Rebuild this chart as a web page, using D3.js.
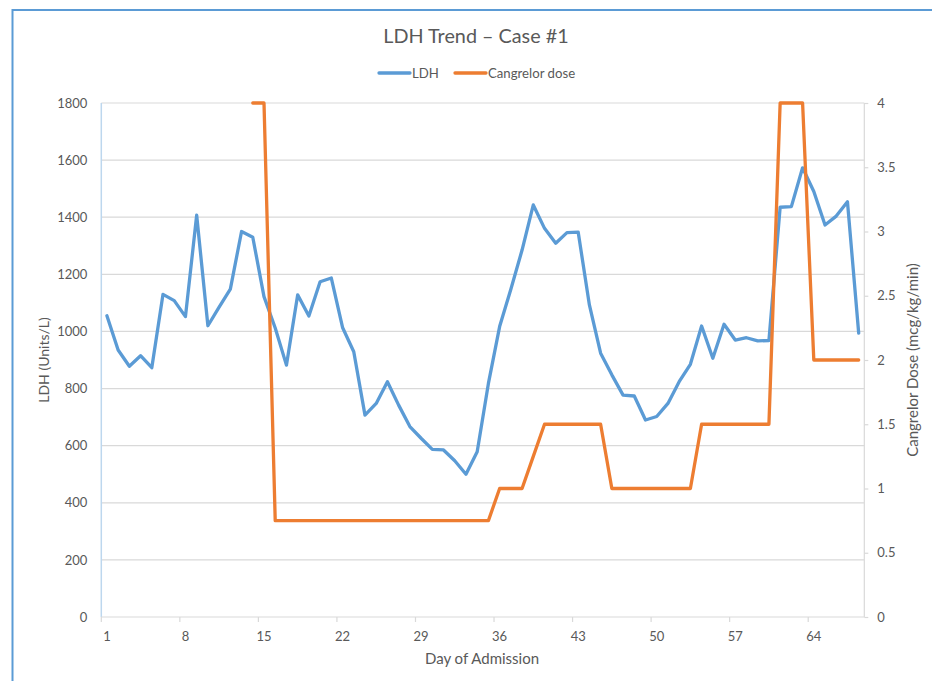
<!DOCTYPE html>
<html>
<head>
<meta charset="utf-8">
<script src="https://cdn.jsdelivr.net/npm/d3@7"></script>
<style>
  html, body { margin: 0; padding: 0; background: #fff; }
  svg { display: block; font-family: Lato, "Open Sans", sans-serif; }
</style>
</head>
<body>
<svg id="chart" width="932" height="681"></svg>
<script>
// Day of admission (category axis)
const days = [
  1, 2, 3, 4, 5, 6, 7, 8, 9, 10, 11, 12, 13, 14, 15, 16, 17,
  18, 19, 20, 21, 22, 23, 24, 25, 26, 27, 28, 29, 30, 31, 32, 33, 34,
  35, 36, 37, 38, 39, 40, 41, 42, 43, 44, 45, 46, 47, 48, 49, 50, 51,
  52, 53, 54, 55, 56, 57, 58, 59, 60, 61, 62, 63, 64, 65, 66, 67, 68
];

// LDH (Units/L), one reading per day
const ldh = [
  1055, 935, 878, 915, 873, 1130, 1108, 1052, 1407, 1020, 1085, 1148, 1350, 1330, 1122, 1012, 882,
  1128, 1054, 1174, 1187, 1014, 929, 707, 748, 824, 742, 667, 626, 587, 585, 547, 500, 579,
  818, 1017, 1148, 1285, 1443, 1361, 1309, 1346, 1348, 1093, 924, 848, 777, 774, 690, 702, 748,
  824, 885, 1019, 906, 1025, 970, 978, 967, 968, 1435, 1437, 1573, 1490, 1373, 1404, 1454, 994
];

// Cangrelor dose (mcg/kg/min); null before the infusion started
const dose = [
  null, null, null, null, null, null, null, null, null, null, null, null, null, 4, 4, 0.75, 0.75,
  0.75, 0.75, 0.75, 0.75, 0.75, 0.75, 0.75, 0.75, 0.75, 0.75, 0.75, 0.75, 0.75, 0.75, 0.75, 0.75, 0.75,
  0.75, 1, 1, 1, 1.25, 1.5, 1.5, 1.5, 1.5, 1.5, 1.5, 1, 1, 1, 1, 1, 1,
  1, 1, 1.5, 1.5, 1.5, 1.5, 1.5, 1.5, 1.5, 4, 4, 4, 2, 2, 2, 2, 2
];

const xTickDays = [1, 8, 15, 22, 29, 36, 43, 50, 57, 64];
const ldhTicks = [0, 200, 400, 600, 800, 1000, 1200, 1400, 1600, 1800];
const doseTicks = [0, 0.5, 1, 1.5, 2, 2.5, 3, 3.5, 4];

const seriesNames = ["LDH", "Cangrelor dose"];
const colors = { ldh: "#5b9bd5", dose: "#ed7d31" };
const textColor = "#595959";
const gridColor = "#d9d9d9";

const svg = d3.select("#chart");
const plot = { left: 101.3, right: 864.3, top: 103, bottom: 617 };

// Outer chart frame
svg.append("rect")
  .attr("x", 12.5).attr("y", 10)
  .attr("width", 940).attr("height", 700)
  .attr("fill", "#fff")
  .attr("stroke", "#5b9bd5").attr("stroke-width", 2);

const x = d3.scaleBand().domain(days).range([plot.left, plot.right]).padding(0);
const cx = d => x(d) + x.bandwidth() / 2;
const yL = d3.scaleLinear().domain([0, 1800]).range([plot.bottom, plot.top]);
const yR = d3.scaleLinear().domain([0, 4]).range([plot.bottom, plot.top]);

// Horizontal gridlines
svg.append("g")
  .selectAll("line")
  .data(ldhTicks.filter(v => v > 0))
  .join("line")
  .attr("x1", plot.left).attr("x2", plot.right)
  .attr("y1", d => yL(d)).attr("y2", d => yL(d))
  .attr("stroke", gridColor).attr("stroke-width", 1.2);

// Left axis: labels only, with a pale blue axis line
const leftAxis = svg.append("g")
  .attr("transform", `translate(${plot.left},0)`)
  .call(d3.axisLeft(yL).tickValues(ldhTicks).tickSize(0).tickPadding(14).tickFormat(d3.format("d")));
leftAxis.select(".domain").remove();
leftAxis.selectAll("text").attr("fill", textColor).attr("font-size", 13).attr("font-family", "Lato, sans-serif");
svg.append("line")
  .attr("x1", plot.left).attr("x2", plot.left)
  .attr("y1", plot.top).attr("y2", plot.bottom)
  .attr("stroke", "#bdd7ee").attr("stroke-width", 1.5);

// Right axis
const rightAxis = svg.append("g")
  .attr("transform", `translate(${plot.right},0)`)
  .call(d3.axisRight(yR).tickValues(doseTicks).tickSize(4).tickPadding(9).tickFormat(d => String(d)));
rightAxis.select(".domain")
  .attr("d", `M0,${plot.top}V${plot.bottom}`)
  .attr("stroke", gridColor).attr("stroke-width", 1.2);
rightAxis.selectAll(".tick line").attr("stroke", gridColor).attr("stroke-width", 1.2);
rightAxis.selectAll("text").attr("fill", textColor).attr("font-size", 13).attr("font-family", "Lato, sans-serif");

// Bottom category axis: tick marks sit on category boundaries, labels on centres
const bottomAxis = svg.append("g")
  .attr("transform", `translate(0,${plot.bottom})`)
  .call(d3.axisBottom(x).tickValues(xTickDays).tickSize(5).tickPadding(10));
bottomAxis.select(".domain")
  .attr("d", `M${plot.left},0H${plot.right}`)
  .attr("stroke", gridColor).attr("stroke-width", 1.2);
bottomAxis.selectAll(".tick line")
  .attr("x1", -x.bandwidth() / 2).attr("x2", -x.bandwidth() / 2)
  .attr("stroke", gridColor).attr("stroke-width", 1.2);
bottomAxis.selectAll("text").attr("fill", textColor).attr("font-size", 13).attr("font-family", "Lato, sans-serif");

// Series lines
const ldhLine = d3.line()
  .x((d, i) => cx(days[i]))
  .y(d => yL(d));
const doseLine = d3.line()
  .defined(d => d !== null)
  .x((d, i) => cx(days[i]))
  .y(d => yR(d));

svg.append("path")
  .datum(ldh)
  .attr("d", ldhLine)
  .attr("fill", "none")
  .attr("stroke", colors.ldh).attr("stroke-width", 3.3)
  .attr("stroke-linejoin", "round").attr("stroke-linecap", "round");

svg.append("path")
  .datum(dose)
  .attr("d", doseLine)
  .attr("fill", "none")
  .attr("stroke", colors.dose).attr("stroke-width", 3.3)
  .attr("stroke-linejoin", "round").attr("stroke-linecap", "round");

// Title
svg.append("text")
  .attr("x", 476).attr("y", 43)
  .attr("text-anchor", "middle")
  .attr("fill", textColor).attr("font-size", 19.8)
  .text("LDH Trend – Case #1");

// Legend
const legend = svg.append("g").attr("font-size", 13.2).attr("fill", textColor);
const legendItems = [
  { name: seriesNames[0], color: colors.ldh, x0: 379 },
  { name: seriesNames[1], color: colors.dose, x0: 455 }
];
legendItems.forEach(it => {
  legend.append("line")
    .attr("x1", it.x0).attr("x2", it.x0 + 31)
    .attr("y1", 73).attr("y2", 73)
    .attr("stroke", it.color).attr("stroke-width", 3.3).attr("stroke-linecap", "round");
  legend.append("text")
    .attr("x", it.x0 + 33).attr("y", 77.5)
    .text(it.name);
});

// Axis titles
svg.append("text")
  .attr("transform", `translate(49,${(plot.top + plot.bottom) / 2}) rotate(-90)`)
  .attr("text-anchor", "middle")
  .attr("fill", textColor).attr("font-size", 14)
  .text("LDH (Units/L)");

svg.append("text")
  .attr("transform", `translate(918,${(plot.top + plot.bottom) / 2}) rotate(-90)`)
  .attr("text-anchor", "middle")
  .attr("fill", textColor).attr("font-size", 15)
  .text("Cangrelor Dose (mcg/kg/min)");

svg.append("text")
  .attr("x", 482).attr("y", 664)
  .attr("text-anchor", "middle")
  .attr("fill", textColor).attr("font-size", 15)
  .text("Day of Admission");
</script>
</body>
</html>
